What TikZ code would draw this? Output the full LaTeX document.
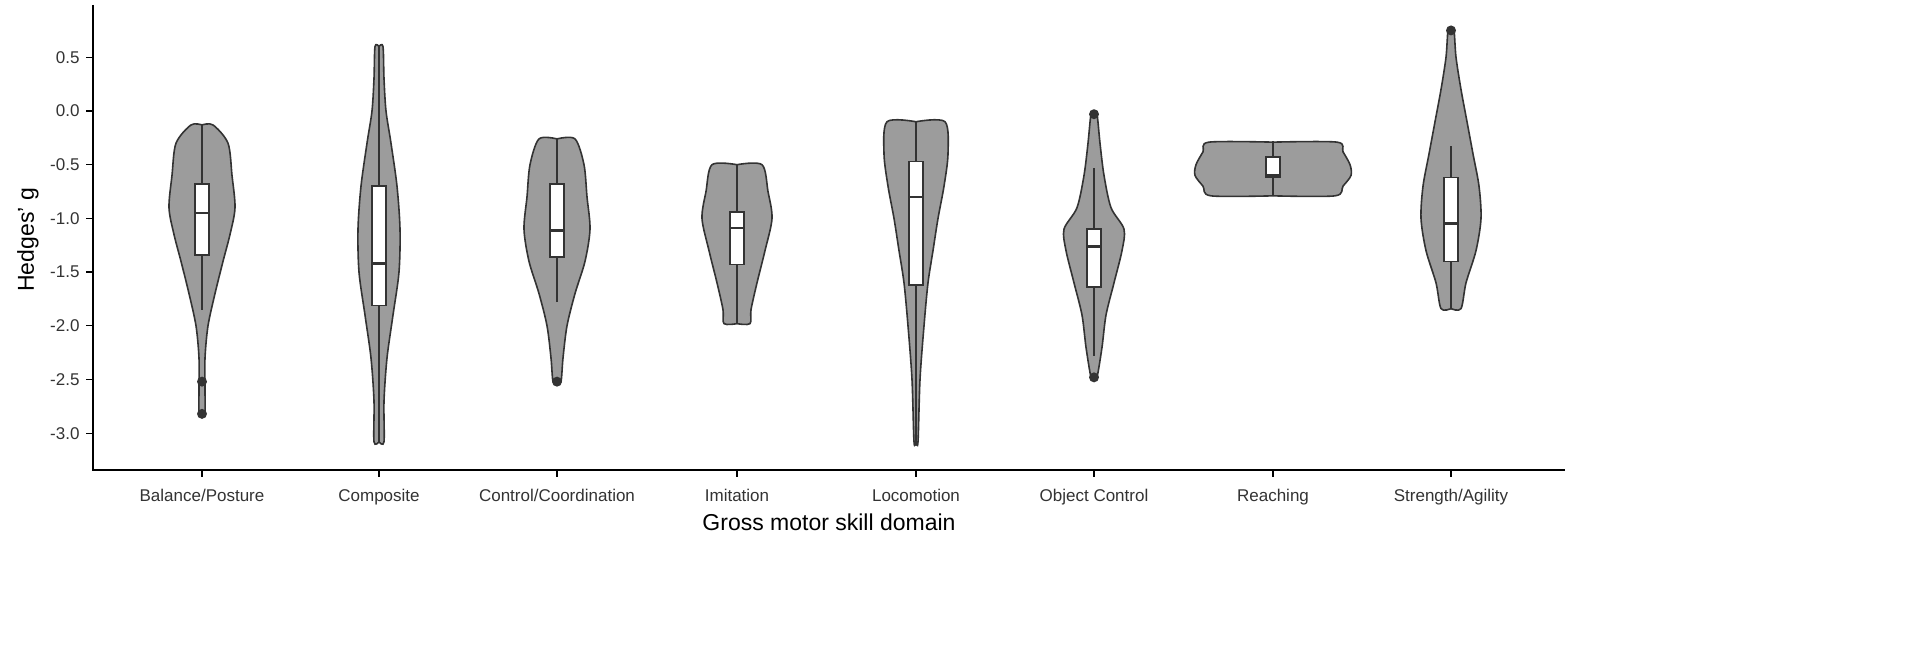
\documentclass[tikz,border=0pt]{standalone}
\usepackage{fontspec}
\setmainfont{Liberation Sans}
\definecolor{violfill}{HTML}{9C9C9C}
\definecolor{violline}{HTML}{333333}
\tikzset{
  vfill/.style={fill=violfill},
  vline/.style={draw=violline,line width=1.6pt},
  tick label/.style={font=\fontsize{17}{19}\selectfont,text=black!80},
  axis title/.style={font=\fontsize{23}{26}\selectfont},
}
% half of a violin, mirrored with xscale
\newcommand\halfviolin[1]{%
  \fill[vfill] plot[smooth,tension=0.5] coordinates {#1} -- cycle;
  \draw[vline] plot[smooth,tension=0.5] coordinates {#1};}
\newcommand\violin[2]{%
  \begin{scope}[shift={(#1,0)}]
    \halfviolin{#2}
    \begin{scope}[xscale=-1]\halfviolin{#2}\end{scope}
  \end{scope}}
% whisker and box: x, low, q1, median, q3, high
\newcommand\violbox[6]{%
  \draw[violline,line width=1.4pt] (#1,#2) -- (#1,#6);
  \draw[violline,line width=1.4pt,fill=white] (#1-7,#3) rectangle (#1+7,#5);
  \draw[violline,line width=2.6pt] (#1-7,#4) -- (#1+7,#4);}
\newcommand\outlier[2]{\fill[violline] (#1,#2) circle (5pt);}
\begin{document}
\begin{tikzpicture}[x=1pt,y=107.4pt]
\useasboundingbox (0,1.0335) rectangle (1920,-5.158);
\fill[white] (0,1.0335) rectangle (1920,-5.158);

\violin{202}{(0,-0.13) (11,-0.13) (26,-0.3) (30,-0.6) (33,-0.9) (28,-1.15) (21,-1.4) (13,-1.7) (6,-2.0) (3,-2.3) (3,-2.6) (3,-2.82) (0,-2.82)}
\violin{379}{(0,0.6) (4,0.6) (5,0.3) (7,0.0) (12,-0.3) (18,-0.7) (21,-1.1) (20,-1.5) (14,-1.9) (8,-2.3) (5,-2.7) (5,-3.08) (0,-3.08)}
\violin{557}{(0,-0.26) (18,-0.26) (27,-0.5) (30,-0.8) (33,-1.1) (28,-1.4) (18,-1.7) (10,-2.0) (6,-2.3) (4,-2.52) (0,-2.52)}
\violin{737}{(0,-0.5) (25,-0.5) (31,-0.75) (35,-1.0) (28,-1.3) (20,-1.6) (14,-1.85) (13,-1.98) (0,-1.98)}
\violin{916}{(0,-0.1) (29,-0.1) (32,-0.4) (28,-0.7) (22,-1.0) (17,-1.3) (12,-1.6) (8,-2.0) (4,-2.5) (2,-3.08) (0,-3.08)}
\violin{1094}{(0,-0.03) (3,-0.03) (6,-0.3) (10,-0.6) (17,-0.9) (30,-1.1) (28,-1.3) (20,-1.6) (12,-1.9) (8,-2.2) (3,-2.48) (0,-2.48)}
\violin{1273}{(0,-0.29) (64,-0.29) (70,-0.38) (77,-0.5) (78,-0.6) (70,-0.7) (62,-0.79) (0,-0.79)}
\violin{1451}{(0,0.75) (3,0.75) (5,0.5) (10,0.2) (16,-0.1) (22,-0.4) (28,-0.7) (30,-1.0) (25,-1.3) (15,-1.6) (10,-1.84) (0,-1.84)}

\violbox{202}{-1.85}{-1.34}{-0.95}{-0.68}{-0.13}
\violbox{379}{-3.08}{-1.81}{-1.42}{-0.70}{0.6}
\violbox{557}{-1.78}{-1.36}{-1.11}{-0.68}{-0.26}
\violbox{737}{-1.98}{-1.43}{-1.09}{-0.94}{-0.5}
\violbox{916}{-3.08}{-1.62}{-0.80}{-0.47}{-0.1}
\violbox{1094}{-2.28}{-1.64}{-1.26}{-1.10}{-0.53}
\violbox{1273}{-0.79}{-0.62}{-0.60}{-0.43}{-0.28}
\violbox{1451}{-1.84}{-1.40}{-1.05}{-0.62}{-0.33}

\outlier{202}{-2.52} \outlier{202}{-2.82}
\outlier{557}{-2.52}
\outlier{1094}{-0.03} \outlier{1094}{-2.48}
\outlier{1451}{0.75}

% axes
\draw[line width=1.8pt] (93,0.987) -- (93,-3.343) -- (1565,-3.343);
\foreach \v/\t in {0.5/0.5,0/0.0,-0.5/-0.5,-1/-1.0,-1.5/-1.5,-2/-2.0,-2.5/-2.5,-3/-3.0}{
  \draw[line width=1.2pt] (86,\v) -- (93,\v);
  \node[tick label,anchor=east] at (83,\v) {\t};}
\foreach \x/\t in {202/{Balance/Posture},379/Composite,557/{Control/Coordination},737/Imitation,
  916/Locomotion,1094/Object Control,1273/Reaching,1451/{Strength/Agility}}{
  \draw[line width=1.2pt] (\x,-3.343) -- (\x,-3.41);
  \node[tick label,anchor=base] at (\x,-3.64) {\t};}
\node[axis title,anchor=base] at (829,-3.91) {Gross motor skill domain};
\node[axis title,rotate=90,anchor=base] at (34,-1.2) {Hedges' g};
\end{tikzpicture}
\end{document}
